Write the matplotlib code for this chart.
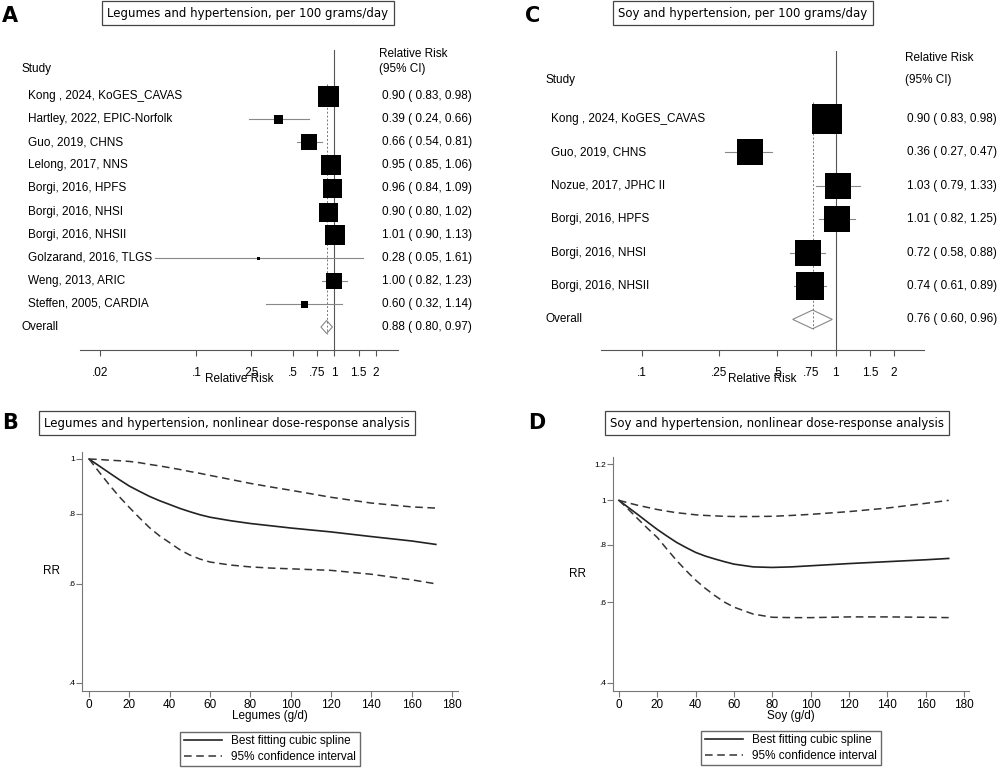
import numpy as np
import matplotlib
matplotlib.use("Agg")
import matplotlib.pyplot as plt
import matplotlib.ticker as mticker

plt.rcParams['font.family'] = ['Liberation Sans', 'DejaVu Sans']

W, H = 1000, 770

# ---- panel A data (legumes, per 100 g/day)
a_studies = ["Kong , 2024, KoGES_CAVAS", "Hartley, 2022, EPIC-Norfolk", "Guo, 2019, CHNS",
             "Lelong, 2017, NNS", "Borgi, 2016, HPFS", "Borgi, 2016, NHSI", "Borgi, 2016, NHSII",
             "Golzarand, 2016, TLGS", "Weng, 2013, ARIC", "Steffen, 2005, CARDIA"]
a_rr = [0.90, 0.39, 0.66, 0.95, 0.96, 0.90, 1.01, 0.28, 1.00, 0.60]
a_lo = [0.83, 0.24, 0.54, 0.85, 0.84, 0.80, 0.90, 0.05, 0.82, 0.32]
a_hi = [0.98, 0.66, 0.81, 1.06, 1.09, 1.02, 1.13, 1.61, 1.23, 1.14]
a_box = [21, 9, 16, 20, 19, 19, 20, 3, 16, 7]  # box widths, px
a_overall = (0.88, 0.80, 0.97)
a_ticks = [0.02, 0.1, 0.25, 0.5, 0.75, 1, 1.5, 2]
a_ticklabels = [".02", ".1", ".25", ".5", ".75", "1", "1.5", "2"]

# ---- panel C data (soy, per 100 g/day)
c_studies = ["Kong , 2024, KoGES_CAVAS", "Guo, 2019, CHNS", "Nozue, 2017, JPHC II",
             "Borgi, 2016, HPFS", "Borgi, 2016, NHSI", "Borgi, 2016, NHSII"]
c_rr = [0.90, 0.36, 1.03, 1.01, 0.72, 0.74]
c_lo = [0.83, 0.27, 0.79, 0.82, 0.58, 0.61]
c_hi = [0.98, 0.47, 1.33, 1.25, 0.88, 0.89]
c_box = [30, 26, 27, 27, 27, 28]
c_overall = (0.76, 0.60, 0.96)
c_ticks = [0.1, 0.25, 0.5, 0.75, 1, 1.5, 2]
c_ticklabels = [".1", ".25", ".5", ".75", "1", "1.5", "2"]

# ---- panel B data (legumes dose-response)
b_x = [0, 5, 10, 15, 20, 25, 30, 35, 40, 45, 50, 55, 60, 70, 80, 90, 100, 120, 140, 160, 172]
b_rr = [1.0, 0.972, 0.945, 0.919, 0.895, 0.876, 0.858, 0.843, 0.83, 0.817, 0.806, 0.796,
        0.788, 0.777, 0.768, 0.761, 0.754, 0.742, 0.728, 0.715, 0.705]
b_up = [1.0, 0.998, 0.995, 0.993, 0.99, 0.985, 0.978, 0.972, 0.965, 0.958, 0.95, 0.943,
        0.935, 0.92, 0.905, 0.892, 0.88, 0.855, 0.835, 0.822, 0.818]
b_lowr = [1.0, 0.948, 0.9, 0.857, 0.82, 0.786, 0.755, 0.73, 0.71, 0.69, 0.675, 0.664,
          0.656, 0.648, 0.643, 0.64, 0.638, 0.634, 0.624, 0.61, 0.60]

# ---- panel D data (soy dose-response)
d_x = [0, 5, 10, 15, 20, 25, 30, 35, 40, 45, 50, 55, 60, 70, 80, 90, 100, 120, 140, 160, 172]
d_rr = [1.0, 0.964, 0.93, 0.896, 0.864, 0.836, 0.81, 0.789, 0.77, 0.756, 0.745, 0.735,
        0.726, 0.716, 0.714, 0.716, 0.72, 0.728, 0.735, 0.742, 0.747]
d_up = [1.0, 0.987, 0.975, 0.965, 0.955, 0.947, 0.94, 0.935, 0.93, 0.927, 0.925, 0.923,
        0.922, 0.922, 0.923, 0.927, 0.932, 0.945, 0.962, 0.985, 1.0]
d_lowr = [1.0, 0.955, 0.91, 0.868, 0.83, 0.783, 0.74, 0.703, 0.67, 0.643, 0.62, 0.6,
          0.585, 0.565, 0.556, 0.555, 0.555, 0.557, 0.557, 0.556, 0.555]

fig = plt.figure(figsize=(W / 100, H / 100), dpi=100)


def px_axes(x0, y0, x1, y1):
    return fig.add_axes([x0 / W, 1 - y1 / H, (x1 - x0) / W, (y1 - y0) / H])


def ftext(x, y, s, **kw):
    fig.text(x / W, 1 - y / H, s, **kw)


def boxed_title(x, y, s):
    ftext(x, y, s, ha="center", va="center", fontsize=8.5, family="DejaVu Sans",
          bbox=dict(boxstyle="square,pad=0.45", fc="white", ec="#444444", lw=0.9))


def forest(ax_px, xlim, row0, dy, studies, rr, lo, hi, box, overall, ticks, ticklabels,
           text_x, est_x, vtop, fs):
    x0, x1, ybot = ax_px
    n = len(studies)
    ax = px_axes(x0, vtop, x1, ybot)
    ax.set_xscale("log")
    ax.set_xlim(*xlim)
    # row index -> px mapping
    ax.set_ylim((ybot - row0) / dy, (vtop - row0) / dy)
    for s in ["top", "right", "left"]:
        ax.spines[s].set_visible(False)
    ax.spines["bottom"].set_color("#555555")
    ax.set_yticks([])
    ax.set_xticks(ticks)
    ax.set_xticklabels(ticklabels, fontsize=fs)
    ax.xaxis.set_minor_locator(mticker.NullLocator())
    ax.tick_params(axis="x", length=4, color="#555555", pad=8)
    ax.set_xlabel("Relative Risk", fontsize=fs, labelpad=-4)
    ax.axvline(1, color="#555555", lw=0.8)
    ax.plot([overall[0]] * 2, [-0.5, n + 0.3], ls=(0, (2, 2)), color="#777777", lw=0.7)
    for i in range(n):
        ax.plot([lo[i], hi[i]], [i, i], color="#888888", lw=0.8)
        ax.plot(rr[i], i, marker="s", color="black", ms=box[i] * 0.72, mew=0)
    m, l, h = overall
    ax.fill([l, m, h, m], [n, n - 0.28, n, n + 0.28], fc="white", ec="#888888", lw=0.8)
    for i in range(n):
        ftext(text_x, row0 + dy * i, studies[i], va="center", fontsize=fs)
        ftext(est_x, row0 + dy * i, "%.2f ( %.2f, %.2f)" % (rr[i], lo[i], hi[i]),
              va="center", fontsize=fs)
    ftext(text_x - 6, row0 + dy * n, "Overall", va="center", fontsize=fs)
    ftext(est_x, row0 + dy * n, "%.2f ( %.2f, %.2f)" % overall, va="center", fontsize=fs)
    return ax


# panel A
forest((80, 398, 350), (0.0143, 2.9), 96, 23.1, a_studies, a_rr, a_lo, a_hi, a_box,
       a_overall, a_ticks, a_ticklabels, 28, 382, 50, 8.5)
ftext(22, 69, "Study", va="center", fontsize=8.5)
ftext(379, 54, "Relative Risk", va="center", fontsize=8.5)
ftext(379, 69, "(95% CI)", va="center", fontsize=8.5)
boxed_title(248, 13, "Legumes and hypertension, per 100 grams/day")
ftext(2, 16, "A", fontsize=15, fontweight="bold", family="DejaVu Sans", va="center")

# panel C
forest((601, 924, 350), (0.0617, 2.85), 119, 33.4, c_studies, c_rr, c_lo, c_hi, c_box,
       c_overall, c_ticks, c_ticklabels, 551, 907, 51, 8.5)
ftext(545, 80, "Study", va="center", fontsize=8.5)
ftext(905, 58, "Relative Risk", va="center", fontsize=8.5)
ftext(905, 80, "(95% CI)", va="center", fontsize=8.5)
boxed_title(743, 13, "Soy and hypertension, per 100 grams/day")
ftext(525, 16, "C", fontsize=15, fontweight="bold", family="DejaVu Sans", va="center")


def spline_panel(ax_px, xlim, ylim, yticks, yticklabels, x, rr, up, lowr, xlabel):
    ax = px_axes(*ax_px)
    ax.set_yscale("log")
    ax.set_xlim(*xlim)
    ax.set_ylim(*ylim)
    ax.plot(x, rr, color="#222222", lw=1.2, label="Best fitting cubic spline")
    ax.plot(x, up, color="#333333", lw=1.1, ls=(0, (5, 3)), label="95% confidence interval")
    ax.plot(x, lowr, color="#333333", lw=1.1, ls=(0, (5, 3)))
    for s in ["top", "right"]:
        ax.spines[s].set_visible(False)
    for s in ["left", "bottom"]:
        ax.spines[s].set_color("#777777")
    ax.set_yticks(yticks)
    ax.set_yticklabels(yticklabels, fontsize=6)
    ax.yaxis.set_minor_locator(mticker.NullLocator())
    ax.yaxis.set_minor_formatter(mticker.NullFormatter())
    ax.set_xticks(range(0, 181, 20))
    ax.tick_params(axis="x", labelsize=8.5, length=4, color="#777777", pad=2)
    ax.tick_params(axis="y", length=4, color="#777777", pad=1)
    ax.set_xlabel(xlabel, fontsize=8.5, labelpad=-1)
    ax.set_ylabel("RR", fontsize=8.5, rotation=0, labelpad=12, va="center")
    ax.legend(loc="upper center", bbox_to_anchor=(0.5, -0.145), fontsize=8.5, frameon=True,
              fancybox=False, edgecolor="#444444", handlelength=3.2, borderpad=0.3,
              labelspacing=0.3)
    return ax


# panel B
spline_panel((82, 452, 458, 691), (-3.5, 183), (0.387, 1.029), [0.4, 0.6, 0.8, 1.0],
             [".4", ".6", ".8", "1"], b_x, b_rr, b_up, b_lowr, "Legumes (g/d)")
boxed_title(227, 423, "Legumes and hypertension, nonlinear dose-response analysis")
ftext(2, 423, "B", fontsize=15, fontweight="bold", family="DejaVu Sans", va="center")

# panel D
spline_panel((613, 457, 969, 691), (-3.1, 182.6), (0.384, 1.243), [0.4, 0.6, 0.8, 1.0, 1.2],
             [".4", ".6", ".8", "1", "1.2"], d_x, d_rr, d_up, d_lowr, "Soy (g/d)")
boxed_title(777, 423, "Soy and hypertension, nonlinear dose-response analysis")
ftext(528, 423, "D", fontsize=15, fontweight="bold", family="DejaVu Sans", va="center")

fig.savefig("out.png", dpi=100)
